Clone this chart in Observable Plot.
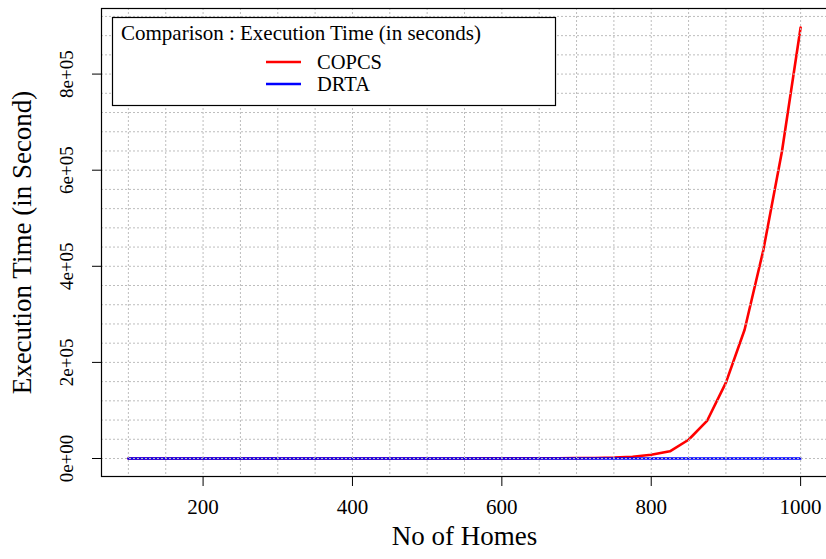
<!DOCTYPE html>
<html><head><meta charset="utf-8">
<script src="https://cdn.jsdelivr.net/npm/d3@7"></script>
<script src="https://cdn.jsdelivr.net/npm/@observablehq/plot@0.6"></script>
<style>
html,body{margin:0;padding:0;background:#fff;}
#wrap{position:relative;width:826px;height:559px;overflow:hidden;}
#wrap svg{position:absolute;left:0;top:0;}
</style>
</head><body>
<div id="wrap"></div>
<script>
// ---- data ----
const homes = [100,125,150,175,200,225,250,275,300,325,350,375,400,425,450,475,500,525,550,575,600,625,650,675,700,725,750,775,800,825,850,875,900,925,950,975,1000];
const copcs = [0,0,1,1,2,3,4,6,8,11,15,20,27,36,48,64,85,113,150,200,265,350,465,620,820,1090,1800,3500,7700,15000,39000,79000,158000,268000,433000,639000,897000];
const drta  = [1,1,2,2,3,3,4,5,6,7,8,9,10,12,13,15,17,19,21,23,26,29,32,35,38,42,46,50,54,59,64,69,75,81,87,94,100];
const seriesNames  = ["COPCS","DRTA"];
const seriesColors = ["#ff0000","#0000ff"];
const xTicks = [200,400,600,800,1000];
const yTicks = [0,200000,400000,600000,800000];
const yTickLabels = ["0e+00","2e+05","4e+05","6e+05","8e+05"];
const xGrid = [100,150,200,250,300,350,400,450,500,550,600,650,700,750,800,850,900,950,1000];
const yGrid = [0,40000,80000,120000,160000,200000,240000,280000,320000,360000,400000,440000,480000,520000,560000,600000,640000,680000,720000,760000,800000,840000,880000,920000];
const legendTitle = "Comparison : Execution Time (in seconds)";
const xLabel = "No of Homes";
const yLabel = "Execution Time (in Second)";
const xDomain = [64, 1036];
const yDomain = [-37460, 936500];

const FONT = '"Liberation Serif","Times New Roman",serif';
const rows = [];
homes.forEach((h,i)=>{
  rows.push({x:h, y:copcs[i], s:seriesNames[0]});
  rows.push({x:h, y:drta[i],  s:seriesNames[1]});
});

const grid = {stroke:"#bdbdbd", strokeWidth:1, strokeDasharray:"2,2"};

const chart = Plot.plot({
  width: 826, height: 559,
  marginLeft: 101, marginRight: -1, marginTop: 8, marginBottom: 83,
  style: {fontFamily: FONT, background: "transparent", color: "#000"},
  x: {domain: xDomain, axis: null},
  y: {domain: yDomain, axis: null},
  marks: [
    Plot.line(rows.filter(d=>d.s===seriesNames[0]), {x:"x", y:"y", stroke: seriesColors[0], strokeWidth: 2.6}),
    Plot.line(rows.filter(d=>d.s===seriesNames[1]), {x:"x", y:"y", stroke: seriesColors[1], strokeWidth: 2.4}),
    Plot.ruleX(xGrid, grid),
    Plot.ruleY(yGrid, grid),
    Plot.frame({stroke:"#000", strokeWidth:1.2}),
    Plot.axisX(xTicks, {anchor:"bottom", tickSize:10, tickPadding:13, fontSize:21, label:null, tickFormat: d=>String(d)}),
    Plot.axisY(yTicks, {anchor:"left", tickSize:9, label:null, tickFormat: ()=>""}),
    Plot.text(yTicks, {y: d=>d, text: (d,i)=>yTickLabels[i], frameAnchor:"left", dx:-35, rotate:-90, fontSize:19, textAnchor:"middle"}),
    Plot.text([yLabel], {text: d=>d, frameAnchor:"left", dx:-79, rotate:-90, fontSize:27, textAnchor:"middle"}),
    Plot.text([xLabel], {text: d=>d, frameAnchor:"bottom", dy:68, fontSize:27, textAnchor:"middle"})
  ]
});
document.getElementById("wrap").appendChild(chart);

// legend (inside plot area, top-left), drawn as an overlay
const lg = d3.select("#wrap").append("svg")
  .attr("width", 826).attr("height", 559)
  .style("font-family", FONT);
lg.append("rect").attr("x", 112.5).attr("y", 17.5).attr("width", 443).attr("height", 88)
  .attr("fill", "#fff").attr("stroke", "#000").attr("stroke-width", 1.2);
lg.append("text").attr("x", 121).attr("y", 40).attr("font-size", 21).text(legendTitle);
seriesNames.forEach((name,i)=>{
  const yy = 62 + i*22;
  lg.append("line").attr("x1", 266).attr("x2", 301).attr("y1", yy).attr("y2", yy)
    .attr("stroke", seriesColors[i]).attr("stroke-width", 2.4);
  lg.append("text").attr("x", 317).attr("y", yy + 7).attr("font-size", 20.5).text(name);
});
</script>
</body></html>
